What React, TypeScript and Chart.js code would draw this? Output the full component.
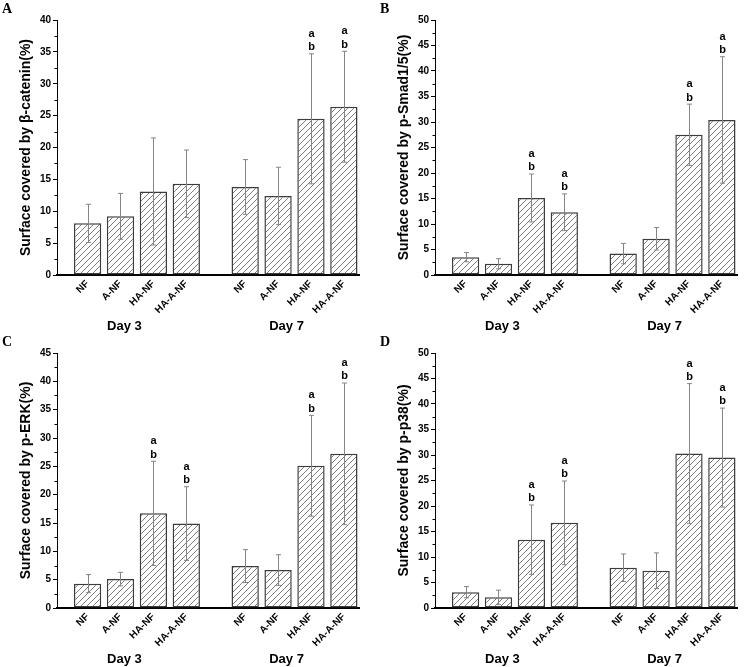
import React, { useEffect, useRef } from "react";
import { Chart, registerables } from "chart.js";

Chart.register(...registerables);

const days = ["Day 3", "Day 7"];
const treatments = ["NF", "A-NF", "HA-NF", "HA-A-NF"];

// A: beta-catenin
const cateninMean = [8.1, 9.2, 13.1, 14.3, 13.8, 12.4, 24.5, 26.4];
const cateninSD = [3.0, 3.6, 8.4, 5.3, 4.3, 4.5, 10.2, 8.7];
const cateninSig = ["", "", "", "", "", "", "ab", "ab"];

// B: p-Smad1/5
const smadMean = [3.5, 2.2, 15.1, 12.3, 4.2, 7.1, 27.5, 30.4];
const smadSD = [0.9, 1.0, 4.7, 3.6, 2.0, 2.2, 6.0, 12.4];
const smadSig = ["", "", "ab", "ab", "", "", "ab", "ab"];

// C: p-ERK
const erkMean = [4.3, 5.1, 16.7, 14.9, 7.4, 6.7, 25.1, 27.2];
const erkSD = [1.6, 1.2, 9.2, 6.5, 2.9, 2.7, 8.9, 12.5];
const erkSig = ["", "", "ab", "ab", "", "", "ab", "ab"];

// D: p-p38
const p38Mean = [3.1, 2.1, 13.4, 16.7, 7.9, 7.3, 30.3, 29.5];
const p38SD = [1.1, 1.4, 6.8, 8.2, 2.7, 3.5, 13.7, 9.7];
const p38Sig = ["", "", "ab", "ab", "", "", "ab", "ab"];

// bar slots: 4 per day, extra space between the two days
const dayGap = 0.79;
const xPos = days.flatMap((_, g) => treatments.map((_, i) => g * (4 + dayGap) + i));

type PanelDef = {
  letter: string;
  title: string;
  max: number;
  mean: number[];
  sd: number[];
  sig: string[];
};

const panels: PanelDef[] = [
  { letter: "A", title: "Surface covered by β-catenin(%)", max: 40, mean: cateninMean, sd: cateninSD, sig: cateninSig },
  { letter: "B", title: "Surface covered by p-Smad1/5(%)", max: 50, mean: smadMean, sd: smadSD, sig: smadSig },
  { letter: "C", title: "Surface covered by p-ERK(%)", max: 45, mean: erkMean, sd: erkSD, sig: erkSig },
  { letter: "D", title: "Surface covered by p-p38(%)", max: 50, mean: p38Mean, sd: p38SD, sig: p38Sig },
];

const SANS = "'Liberation Sans', Arial, sans-serif";
const SERIF = "'Liberation Serif', 'Times New Roman', serif";

Chart.defaults.font.family = SANS;

function makeHatch(): CanvasPattern | string {
  const size = 6;
  const c = document.createElement("canvas");
  c.width = size;
  c.height = size;
  const g = c.getContext("2d");
  if (!g) return "#fff";
  g.fillStyle = "#fff";
  g.fillRect(0, 0, size, size);
  g.strokeStyle = "#6e6e6e";
  g.lineWidth = 0.9;
  g.beginPath();
  g.moveTo(0, size);
  g.lineTo(size, 0);
  g.moveTo(-1, 1);
  g.lineTo(1, -1);
  g.moveTo(size - 1, size + 1);
  g.lineTo(size + 1, size - 1);
  g.stroke();
  return g.createPattern(c, "repeat") ?? "#fff";
}

const BarPanel: React.FC<{ p: PanelDef }> = ({ p }) => {
  const canvasRef = useRef<HTMLCanvasElement | null>(null);

  useEffect(() => {
    if (!canvasRef.current) return;

    const extras = {
      id: "extras",
      afterDatasetsDraw(chart: any) {
        const ctx = chart.ctx;
        const ys = chart.scales.y;
        const meta = chart.getDatasetMeta(0);
        ctx.save();
        meta.data.forEach((bar: any, i: number) => {
          const x = Math.round(bar.x) + 0.5;
          const top = ys.getPixelForValue(p.mean[i] + p.sd[i]);
          const bot = ys.getPixelForValue(Math.max(p.mean[i] - p.sd[i], 0));
          ctx.strokeStyle = "#858585";
          ctx.lineWidth = 1;
          ctx.beginPath();
          ctx.moveTo(x, top);
          ctx.lineTo(x, bot);
          ctx.moveTo(x - 2.5, top);
          ctx.lineTo(x + 2.5, top);
          ctx.moveTo(x - 2.5, bot);
          ctx.lineTo(x + 2.5, bot);
          ctx.stroke();

          const letters = p.sig[i].split("");
          ctx.fillStyle = "#000";
          ctx.font = `bold 11px ${SANS}`;
          ctx.textAlign = "center";
          ctx.textBaseline = "alphabetic";
          letters.forEach((ch, k) => {
            ctx.fillText(ch, x, top - 3.6 - (letters.length - 1 - k) * 13.4);
          });
        });
        ctx.restore();
      },
      afterDraw(chart: any) {
        const ctx = chart.ctx;
        const ys = chart.scales.y;
        const xs = chart.scales.x;
        const left = chart.chartArea.left;
        ctx.save();
        // minor ticks
        ctx.strokeStyle = "#000";
        ctx.lineWidth = 1;
        ctx.beginPath();
        for (let v = 2.5; v < p.max; v += 5) {
          const py = Math.round(ys.getPixelForValue(v)) + 0.5;
          ctx.moveTo(left - 2.5, py);
          ctx.lineTo(left, py);
        }
        ctx.stroke();

        // day labels, nudged left under the slanted tick labels
        ctx.fillStyle = "#000";
        ctx.font = `bold 13px ${SANS}`;
        ctx.textAlign = "center";
        ctx.textBaseline = "alphabetic";
        days.forEach((d, g) => {
          const a = xs.getPixelForValue(xPos[g * 4]);
          const b = xs.getPixelForValue(xPos[g * 4 + 3]);
          ctx.fillText(d, (a + b) / 2 - 12.5 + g * 4.5, 330);
        });

        // panel letter
        ctx.font = `bold 14px ${SERIF}`;
        ctx.textAlign = "left";
        ctx.fillText(p.letter, 2, 13);
        ctx.restore();
      },
    };

    const chart = new Chart(canvasRef.current, {
      type: "bar",
      data: {
        datasets: [
          {
            data: p.mean.map((m, i) => ({ x: xPos[i], y: m })),
            backgroundColor: makeHatch() as any,
            borderColor: "#3c3c3c",
            borderWidth: 1.5,
            borderSkipped: false,
            barPercentage: 0.83,
            categoryPercentage: 1,
          },
        ],
      },
      options: {
        animation: false,
        responsive: true,
        maintainAspectRatio: false,
        layout: { padding: { top: 20, right: 19, bottom: 0, left: 0 } },
        plugins: { legend: { display: false }, tooltip: { enabled: false } },
        scales: {
          x: {
            type: "linear",
            min: -0.93,
            max: xPos[xPos.length - 1] + 0.46,
            offset: false,
            grid: { display: false, drawTicks: false },
            border: { display: true, color: "#000", width: 2 },
            afterBuildTicks: (s: any) => {
              s.ticks = xPos.map((v) => ({ value: v }));
            },
            afterFit: (s: any) => {
              s.height = 58;
            },
            ticks: {
              autoSkip: false,
              minRotation: 45,
              maxRotation: 45,
              padding: 3,
              color: "#000",
              font: { size: 10, weight: "bold" },
              callback: (_v: any, i: number) => treatments[i % treatments.length],
            },
          },
          y: {
            min: 0,
            max: p.max,
            afterFit: (s: any) => {
              s.width = 57;
            },
            ticks: {
              stepSize: 5,
              padding: 2,
              color: "#000",
              font: { size: 10, weight: "bold" },
            },
            grid: { drawOnChartArea: false, drawTicks: true, tickLength: 4, color: "#000" },
            border: { display: true, color: "#000", width: 1 },
            title: {
              display: true,
              text: p.title,
              color: "#000",
              font: { size: 14, weight: "bold" },
              padding: { top: 18, bottom: 0 },
            },
          },
        },
      } as any,
      plugins: [extras],
    });

    return () => {
      chart.destroy();
    };
  }, [p]);

  return (
    <div style={{ position: "relative", width: 378, height: 333 }}>
      <canvas ref={canvasRef}></canvas>
    </div>
  );
};

const App: React.FC = () => {
  return (
    <div
      style={{
        position: "absolute",
        left: 0,
        top: 0,
        width: 756,
        height: 667,
        background: "#fff",
        display: "grid",
        gridTemplateColumns: "378px 378px",
        gridTemplateRows: "333px 334px",
      }}
    >
      {panels.map((p) => (
        <BarPanel key={p.letter} p={p} />
      ))}
    </div>
  );
};

export default App;
